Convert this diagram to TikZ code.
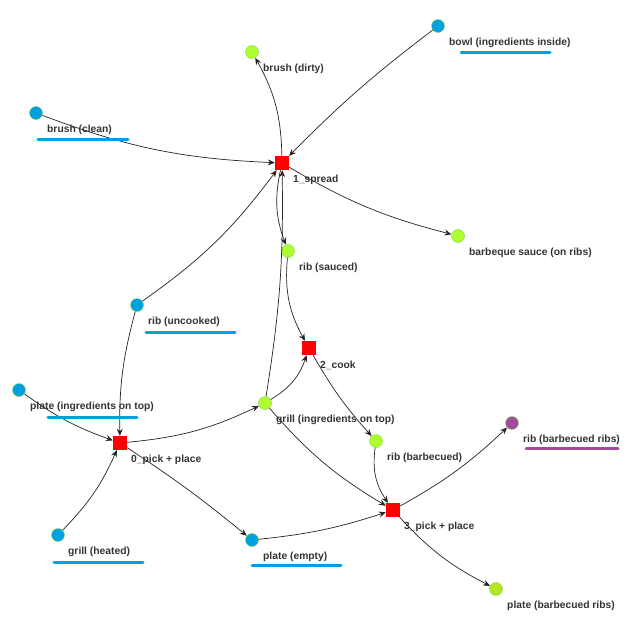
\documentclass[tikz,border=0pt]{standalone}
\usepackage{fontspec}
\setmainfont{Liberation Sans}
\usetikzlibrary{arrows.meta}
\definecolor{nblue}{RGB}{0,160,225}
\definecolor{ngreen}{RGB}{173,255,47}
\definecolor{ngreentwo}{RGB}{180,230,30}
\definecolor{npurple}{RGB}{160,75,160}
\definecolor{nred}{RGB}{255,0,0}
\definecolor{nborder}{RGB}{140,215,90}
\definecolor{txt}{RGB}{51,51,51}
\definecolor{edgec}{RGB}{35,35,35}
\tikzset{
 place/.style={circle, minimum size=13pt, inner sep=0pt, draw=nborder, line width=0.5pt},
 trans/.style={rectangle, minimum size=14pt, inner sep=0pt, fill=nred},
 lab/.style={anchor=west, inner sep=0pt, text=txt, font=\fontsize{10.3}{12}\selectfont\bfseries},
 uline/.style={line width=3pt, line cap=round},
 arc/.style={draw=edgec, line width=0.7pt, -{Stealth[length=7pt,width=6pt,inset=2.5pt]}},
}
\begin{document}
\begin{tikzpicture}[x=1pt,y=-1pt]
\useasboundingbox (0,0) rectangle (628,637);
% nodes
\node[place, fill=nblue] (bowl) at (438,26) {};
\node[place, fill=ngreen] (brushD) at (252,52) {};
\node[place, fill=nblue] (brushC) at (36,113) {};
\node[trans] (spread) at (282,163) {};
\node[place, fill=ngreen] (sauce) at (458,236) {};
\node[place, fill=ngreen] (ribS) at (288,251) {};
\node[place, fill=nblue] (ribU) at (137,305) {};
\node[trans] (cook) at (309,348) {};
\node[place, fill=nblue] (plateI) at (19,390) {};
\node[place, fill=ngreen] (grillI) at (265,403) {};
\node[trans] (pickA) at (120,443) {};
\node[place, fill=ngreen] (ribB) at (376,441) {};
\node[place, fill=npurple] (ribBR) at (512,423) {};
\node[trans] (pickB) at (393,510) {};
\node[place, fill=nblue] (grillH) at (58,535) {};
\node[place, fill=nblue] (plateE) at (252,540) {};
\node[place, fill=ngreentwo] (plateBR) at (496,589) {};
% edges
\draw[arc] (brushC) to[bend right=9] (spread);
\draw[arc] (bowl) to[bend right=4] (spread);
\draw[arc] (spread) to[bend right=14] (brushD);
\draw[arc] (spread) to[bend right=8] (sauce);
\draw[arc] (spread) to[bend right=16] (ribS);
\draw[arc] (grillI) to[bend right=5] (spread);
\draw[arc] (ribU) to[bend right=9] (spread);
\draw[arc] (ribS) to[bend right=17] (cook);
\draw[arc] (grillI) to[bend right=20] (cook);
\draw[arc] (cook) to[bend right=6] (ribB);
\draw[arc] (ribU) to[bend right=8] (pickA);
\draw[arc] (plateI) to[bend right=8] (pickA);
\draw[arc] (grillH) to[bend right=10] (pickA);
\draw[arc] (pickA) to[bend right=10] (grillI);
\draw[arc] (pickA) to[bend left=3] (plateE);
\draw[arc] (plateE) to[bend right=6] (pickB);
\draw[arc] (grillI) to[bend right=9] (pickB);
\draw[arc] (ribB) to[bend right=21] (pickB);
\draw[arc] (pickB) to[bend right=7] (ribBR);
\draw[arc] (pickB) to[bend right=10] (plateBR);
% underlines
\draw[uline, nblue] (461,52) -- (550,52);
\draw[uline, nblue] (38,139) -- (128,139);
\draw[uline, nblue] (146,332) -- (235,332);
\draw[uline, nblue] (48,417) -- (137,417);
\draw[uline, nblue] (54,562) -- (143,562);
\draw[uline, nblue] (252,565) -- (341,565);
\draw[uline, npurple] (526,448) -- (618,448);
% labels
\node[lab] (bowlL) at (449,43) {bowl (ingredients inside)};
\node[lab] (brushDL) at (263,69) {brush (dirty)};
\node[lab] (brushCL) at (47,130) {brush (clean)};
\node[lab] (spreadL) at (293,180) {1\_spread};
\node[lab] (sauceL) at (469,253) {barbeque sauce (on ribs)};
\node[lab] (ribSL) at (299,268) {rib (sauced)};
\node[lab] (ribUL) at (148,322) {rib (uncooked)};
\node[lab] (cookL) at (320,365) {2\_cook};
\node[lab] (plateIL) at (30,407) {plate (ingredients on top)};
\node[lab] (grillIL) at (276,420) {grill (ingredients on top)};
\node[lab] (pickAL) at (131,460) {0\_pick + place};
\node[lab] (ribBL) at (387,458) {rib (barbecued)};
\node[lab] (ribBRL) at (523,440) {rib (barbecued ribs)};
\node[lab] (pickBL) at (404,527) {3\_pick + place};
\node[lab] (grillHL) at (68,552) {grill (heated)};
\node[lab] (plateEL) at (263,557) {plate (empty)};
\node[lab] (plateBRL) at (507,606) {plate (barbecued ribs)};
\end{tikzpicture}
\end{document}
